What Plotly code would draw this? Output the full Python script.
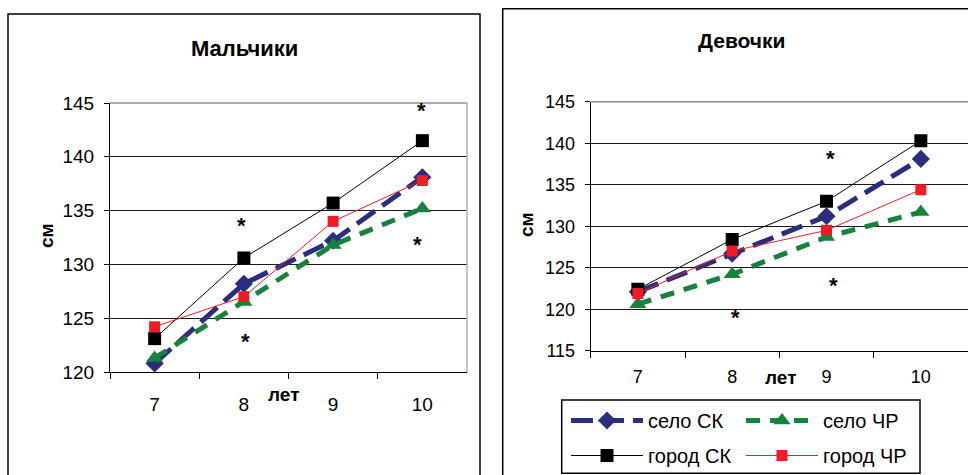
import plotly.graph_objects as go

# --- data -------------------------------------------------------------
ages = ["7", "8", "9", "10"]
y_ticks_boys = [120, 125, 130, 135, 140, 145]
y_ticks_girls = [115, 120, 125, 130, 135, 140, 145]

series_names = ["село СК", "село ЧР", "город СК", "город ЧР"]

boys_village_sk = [120.8, 128.2, 132.2, 138.1]
boys_village_chr = [121.3, 126.5, 131.8, 135.2]
boys_city_sk = [123.1, 130.6, 135.7, 141.5]
boys_city_chr = [124.2, 127.0, 134.0, 137.8]

girls_village_sk = [122.1, 126.7, 131.2, 138.1]
girls_village_chr = [120.6, 124.2, 128.7, 131.7]
girls_city_sk = [122.4, 128.4, 133.0, 140.3]
girls_city_chr = [121.9, 127.0, 129.5, 134.4]

# significance marks (age, height)
boys_star_age = ["8", "8", "10", "10"]
boys_star_val = [133.8, 123.0, 144.5, 132.0]
girls_star_age = ["8", "9", "9"]
girls_star_val = [119.3, 138.4, 123.1]

# --- styles -----------------------------------------------------------
W, H = 968, 475
FONT = "Liberation Sans, Arial, sans-serif"
NAVY = "#2B2E7E"
GREEN = "#17823E"
RED = "#EE1C25"

styles = {
    "село СК": dict(line=dict(color=NAVY, width=5, dash="22px,9px"),
                    marker=dict(symbol="diamond", size=14, color=NAVY)),
    "село ЧР": dict(line=dict(color=GREEN, width=5, dash="14px,10px"),
                    marker=dict(symbol="triangle-up", size=15, color=GREEN)),
    "город СК": dict(line=dict(color="black", width=1),
                     marker=dict(symbol="square", size=13, color="black")),
    "город ЧР": dict(line=dict(color=RED, width=1),
                     marker=dict(symbol="square", size=11, color=RED)),
}
# two legend columns: first column holds СК series, second ЧР series
legend_of = {"село СК": "legend", "город СК": "legend",
             "село ЧР": "legend2", "город ЧР": "legend2"}


def px_x(v):
    return v / W


def px_y(v):
    return 1 - v / H


fig = go.Figure()

boys = [boys_village_sk, boys_village_chr, boys_city_sk, boys_city_chr]
girls = [girls_village_sk, girls_village_chr, girls_city_sk, girls_city_chr]

for name, vals in zip(series_names, boys):
    fig.add_trace(go.Scatter(x=ages, y=vals, name=name, mode="lines+markers",
                             xaxis="x", yaxis="y", showlegend=False,
                             legendgroup=name, legend=legend_of[name],
                             **styles[name]))
for name, vals in zip(series_names, girls):
    fig.add_trace(go.Scatter(x=ages, y=vals, name=name, mode="lines+markers",
                             xaxis="x2", yaxis="y2", showlegend=True,
                             legendgroup=name, legend=legend_of[name],
                             **styles[name]))

axis_common = dict(showgrid=False, showline=True, linecolor="black", linewidth=1,
                   ticks="outside", tickcolor="black", zeroline=False)

legend_common = dict(orientation="v", xanchor="left", yanchor="top",
                     bgcolor="rgba(0,0,0,0)", borderwidth=0,
                     font=dict(size=20, family=FONT), itemwidth=72,
                     traceorder="grouped", tracegroupgap=6)

fig.update_layout(
    width=W, height=H,
    margin=dict(l=0, r=0, t=0, b=0, autoexpand=False),
    paper_bgcolor="white", plot_bgcolor="white",
    font=dict(family=FONT, color="black"),
    xaxis=dict(axis_common, domain=[px_x(110), px_x(467)], anchor="y",
               type="category", range=[-0.5, 3.5], tickson="boundaries",
               ticklen=6, tickfont=dict(size=19), ticklabelstandoff=15),
    yaxis=dict(axis_common, domain=[px_y(372), px_y(103)], anchor="x",
               range=[120, 145], tickvals=y_ticks_boys, ticklen=5,
               showgrid=True, gridcolor="#1a1a1a", gridwidth=1,
               tickfont=dict(size=19), ticklabelstandoff=6),
    xaxis2=dict(axis_common, domain=[px_x(590.7), 1.0], anchor="y2",
                type="category", range=[-0.5, 3.5], tickson="boundaries",
                ticklen=6, tickfont=dict(size=18), ticklabelstandoff=10),
    yaxis2=dict(axis_common, domain=[px_y(350.7), px_y(101.7)], anchor="x2",
                range=[115, 145], tickvals=y_ticks_girls, ticklen=5,
                showgrid=True, gridcolor="#1a1a1a", gridwidth=1,
                tickfont=dict(size=18), ticklabelstandoff=6),
    legend=dict(legend_common, x=px_x(566), y=px_y(401)),
    legend2=dict(legend_common, x=px_x(741), y=px_y(401)),
)

# outer frames of the two chart panels, legend box and grey plot-area edges
shapes = [
    dict(type="rect", xref="paper", yref="paper",
         x0=px_x(8), x1=px_x(480), y0=px_y(520), y1=px_y(14),
         line=dict(color="black", width=1.5), layer="below"),
    dict(type="rect", xref="paper", yref="paper",
         x0=px_x(502.7), x1=px_x(1000), y0=px_y(520), y1=px_y(8.7),
         line=dict(color="black", width=1.5), layer="below"),
    dict(type="rect", xref="paper", yref="paper",
         x0=px_x(561.7), x1=px_x(920), y0=px_y(473.3), y1=px_y(400),
         line=dict(color="black", width=1.5), fillcolor="white", layer="below"),
    dict(type="line", xref="x domain", yref="y domain", x0=0, x1=1, y0=1, y1=1,
         line=dict(color="#8c8c8c", width=1.5)),
    dict(type="line", xref="x domain", yref="y domain", x0=1, x1=1, y0=0, y1=1,
         line=dict(color="#b0b0b0", width=1.5)),
    dict(type="line", xref="x2 domain", yref="y2 domain", x0=0, x1=1, y0=1, y1=1,
         line=dict(color="#8c8c8c", width=1.5)),
]
fig.update_layout(shapes=shapes)

label = dict(xref="paper", yref="paper", showarrow=False,
             xanchor="center", yanchor="middle")
ann = [
    # panel titles
    dict(label, text="<b>Мальчики</b>", x=px_x(244), y=px_y(48),
         font=dict(size=22)),
    dict(label, text="<b>Девочки</b>", x=px_x(741), y=px_y(40),
         font=dict(size=21)),
    # axis titles
    dict(label, text="<b>см</b>", x=px_x(46), y=px_y(236), textangle=-90,
         font=dict(size=19)),
    dict(label, text="<b>см</b>", x=px_x(527), y=px_y(225), textangle=-90,
         font=dict(size=19)),
    dict(label, text="<b>лет</b>", x=px_x(283), y=px_y(394), font=dict(size=19)),
    dict(label, text="<b>лет</b>", x=px_x(780), y=px_y(377), font=dict(size=19)),
]

# significance asterisks (category axes take the category index)
boys_star_shift = [-2, 2, -1, -5]
girls_star_shift = [3, 4, 7]
for a, v, s in zip(boys_star_age, boys_star_val, boys_star_shift):
    ann.append(dict(text="<b>*</b>", x=ages.index(a), y=v, xref="x", yref="y",
                    xanchor="center", yanchor="middle", xshift=s, yshift=-2,
                    showarrow=False, font=dict(size=22)))
for a, v, s in zip(girls_star_age, girls_star_val, girls_star_shift):
    ann.append(dict(text="<b>*</b>", x=ages.index(a), y=v, xref="x2", yref="y2",
                    xanchor="center", yanchor="middle", xshift=s, yshift=-2,
                    showarrow=False, font=dict(size=22)))

fig.update_layout(annotations=ann)

fig.write_html("out.html")
